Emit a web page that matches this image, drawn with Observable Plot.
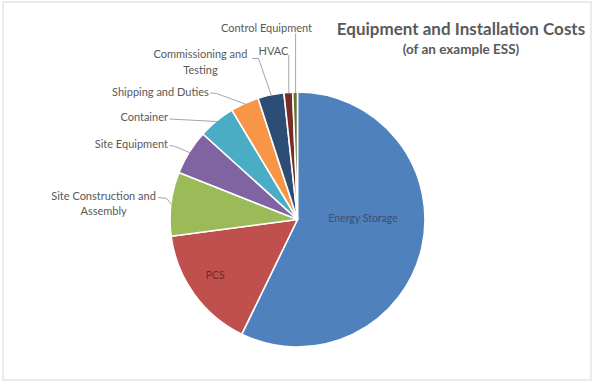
<!DOCTYPE html>
<html>
<head>
<meta charset="utf-8">
<script src="https://cdn.jsdelivr.net/npm/d3@7"></script>
<script src="https://cdn.jsdelivr.net/npm/@observablehq/plot@0.6"></script>
<style>
  html, body { margin: 0; padding: 0; background: #fff; }
  #wrap { position: relative; width: 596px; height: 384px; overflow: hidden; background: #fff; }
  #frame { position: absolute; left: 2px; top: 1px; width: 590px; height: 380px; box-sizing: border-box;
           border: 2px solid #ebebeb; pointer-events: none; }
  #titles { position: absolute; left: 328px; top: 18px; width: 266px; text-align: center;
            font-family: Lato, "Open Sans", sans-serif; color: #595959; }
  #titles .t1 { font-size: 17px; font-weight: 700; line-height: 22px; }
  #titles .t2 { font-size: 13.5px; font-weight: 700; line-height: 19px; }
  svg { display: block; }
</style>
</head>
<body>
<div id="wrap">
  <div id="chart"></div>
  <div id="titles">
    <div class="t1">Equipment and Installation Costs</div>
    <div class="t2">(of an example ESS)</div>
  </div>
  <div id="frame"></div>
</div>
<script>
// ---- data ----
const categories = [
  "Energy Storage",
  "PCS",
  "Site Construction and Assembly",
  "Site Equipment",
  "Container",
  "Shipping and Duties",
  "Commissioning and Testing",
  "HVAC",
  "Control Equipment"
];
const shares = [57.2, 15.7, 8.1, 5.7, 4.7, 3.6, 3.3, 1.1, 0.6];
const labelTexts = [
  "Energy Storage",
  "PCS",
  "Site Construction and\nAssembly",
  "Site Equipment",
  "Container",
  "Shipping and Duties",
  "Commissioning and\nTesting",
  "HVAC",
  "Control Equipment"
];

// ---- styles / layout (kept apart from the data) ----
const palette = ["#4F81BD", "#C0504D", "#9BBB59", "#8064A2", "#4BACC6", "#F79646", "#2C4D75", "#772C2A", "#5F7530"];
const W = 596, H = 384;
const CX = 297.5, CY = 219.5, R = 127.5;   // pie centre and radius, pixels

// label placement, in pie-radius units relative to the centre (y grows downward)
const labelLayout = {
  "Energy Storage": {inside: true, x: 0.51, y: -0.01, fill: "#3e4f72"},
  "PCS": {inside: true, x: -0.65, y: 0.435, fill: "#6a2c2c"},
  "Site Construction and Assembly": {x: -1.525, y: -0.135, anchor: "middle", elbow: [[-1.094, -0.176], [-1.031, -0.169]]},
  "Site Equipment": {x: -1.02, y: -0.600, anchor: "end", elbow: [[-1.004, -0.584], [-0.961, -0.576]]},
  "Container": {x: -1.02, y: -0.815, anchor: "end", elbow: [[-1.004, -0.792]]},
  "Shipping and Duties": {x: -0.70, y: -1.015, anchor: "end", elbow: [[-0.686, -0.996], [-0.639, -0.992]]},
  "Commissioning and Testing": {x: -0.765, y: -1.245, anchor: "middle", elbow: [[-0.357, -1.267], [-0.310, -1.267]]},
  "HVAC": {x: -0.075, y: -1.330, anchor: "end", elbow: [[null, -1.290]]},
  "Control Equipment": {x: -0.247, y: -1.515, anchor: "middle", elbow: [[null, -1.460]]}
};

// ---- derived table ----
const table = categories.map((c, i) => ({category: c, value: shares[i], label: labelTexts[i], color: palette[i]}));
const arcs = d3.pie().sort(null).value(d => d.value)(table);
arcs.forEach(a => {
  a.mid = (a.startAngle + a.endAngle) / 2;
  a.mx = Math.sin(a.mid);
  a.my = -Math.cos(a.mid);
});

const insideLabels = arcs.filter(a => labelLayout[a.data.category].inside)
  .map(a => ({...labelLayout[a.data.category], text: a.data.label}));
const outside = arcs.filter(a => !labelLayout[a.data.category].inside);
const outsideLabels = outside.map(a => ({...labelLayout[a.data.category], text: a.data.label}));

const leaders = [];
outside.forEach(a => {
  const L = labelLayout[a.data.category];
  L.elbow.forEach(([ex, ey]) => leaders.push({category: a.data.category, x: ex == null ? a.mx : ex, y: ey}));
  leaders.push({category: a.data.category, x: a.mx, y: a.my});
});

// custom slice mark: uses Plot's x / y scales for centre and radius
function pieSlices(index, scales) {
  const x = scales.x, y = scales.y;
  const cx = x(0), cy = y(0), r = Math.abs(x(1) - x(0));
  const arc = d3.arc().innerRadius(0).outerRadius(r);
  const g = d3.create("svg:g").attr("transform", `translate(${cx},${cy})`);
  g.selectAll("path").data(arcs).join("path")
    .attr("d", arc)
    .attr("fill", d => d.data.color)
    .attr("stroke", "#fff")
    .attr("stroke-width", 1.6)
    .attr("stroke-linejoin", "round");
  return g.node();
}

const font = "Lato, 'Open Sans', sans-serif";

const chart = Plot.plot({
  width: W,
  height: H,
  margin: 0,
  x: {domain: [-CX / R, (W - CX) / R], axis: null},
  y: {domain: [(H - CY) / R, -CY / R], axis: null},
  style: {fontFamily: font, background: "transparent", overflow: "visible"},
  marks: [
    pieSlices,
    Plot.line(leaders, {x: "x", y: "y", z: "category", stroke: "#a6a6a6", strokeWidth: 1, curve: "linear"}),
    Plot.text(outsideLabels.filter(d => d.anchor === "end"), {
      x: "x", y: "y", text: "text", textAnchor: "end", fill: "#595959", fontSize: 11, lineHeight: 1.4
    }),
    Plot.text(outsideLabels.filter(d => d.anchor === "middle"), {
      x: "x", y: "y", text: "text", textAnchor: "middle", fill: "#595959", fontSize: 11, lineHeight: 1.4
    }),
    Plot.text(insideLabels, {
      x: "x", y: "y", text: "text", fill: "fill", fontSize: 10.5
    })
  ]
});
document.getElementById("chart").appendChild(chart);
</script>
</body>
</html>
